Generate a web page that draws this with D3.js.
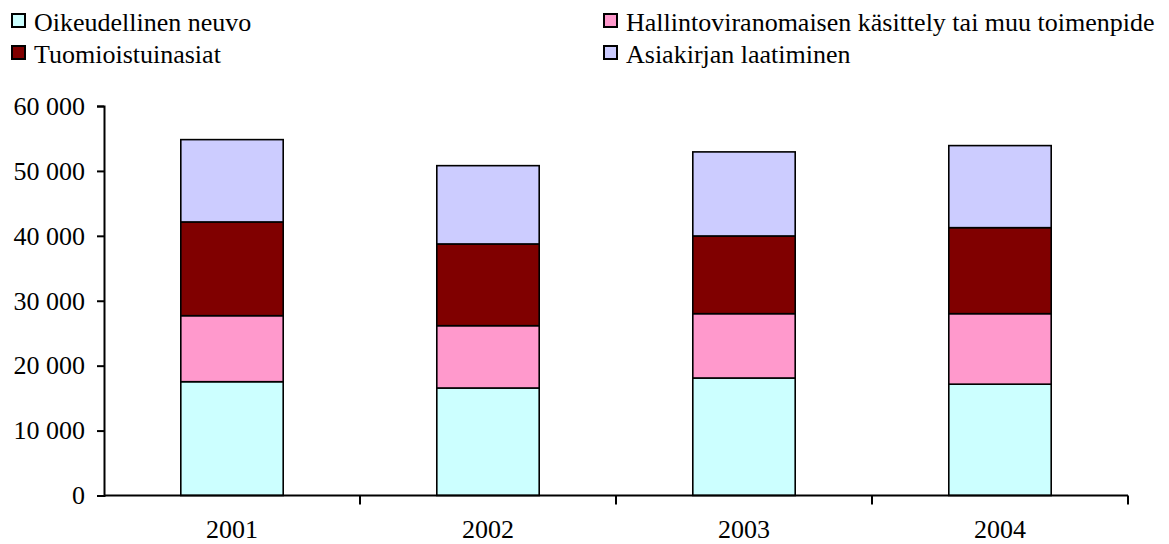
<!DOCTYPE html>
<html>
<head>
<meta charset="utf-8">
<script src="https://cdn.jsdelivr.net/npm/d3@7"></script>
<style>
  body { margin: 0; background: #fff; }
  svg text { font-family: "Liberation Serif", "Times New Roman", Times, serif; }
</style>
</head>
<body>
<svg></svg>
<script>
const years = ["2001", "2002", "2003", "2004"];

const seriesNames = [
    "Oikeudellinen neuvo",
    "Hallintoviranomaisen käsittely tai muu toimenpide",
    "Tuomioistuinasiat",
    "Asiakirjan laatiminen"
];

// values per series, one per year
const oikeudellinenNeuvo = [17530, 16560, 18100, 17150];
const hallinto = [10170, 9600, 9910, 10860];
const tuomioistuin = [14440, 12590, 11970, 13250];
const asiakirja = [12680, 12060, 12950, 12640];

const yTicks = [0, 10000, 20000, 30000, 40000, 50000, 60000];

const colors = ["#ccffff", "#ff99cc", "#800000", "#ccccff"];

const width = 1169, height = 544;
const plotLeft = 104, plotRight = 1128, plotTop = 106, plotBottom = 495.5;
const serif = "'Liberation Serif', 'Times New Roman', Times, serif";

const svg = d3.select("svg")
    .attr("width", width)
    .attr("height", height);

const seriesValues = [oikeudellinenNeuvo, hallinto, tuomioistuin, asiakirja];
const rows = years.map(function(y, i) {
    const r = { year: y };
    seriesNames.forEach(function(s, j) { r[s] = seriesValues[j][i]; });
    return r;
});

const stacked = d3.stack().keys(seriesNames)(rows);

const x = d3.scaleBand()
    .domain(years)
    .range([plotLeft, plotRight])
    .paddingInner(0)
    .paddingOuter(0);

const y = d3.scaleLinear()
    .domain([0, 60000])
    .range([plotBottom, plotTop]);

const fmt = d3.formatLocale({ decimal: ",", thousands: " ", grouping: [3], currency: ["", ""] }).format(",");

const barW = x.bandwidth() / 2.5;

// bars
svg.append("g")
    .selectAll("g")
    .data(stacked)
    .join("g")
    .attr("fill", function(d, i) { return colors[i]; })
    .selectAll("rect")
    .data(function(d) { return d; })
    .join("rect")
    .attr("x", function(d) { return x(d.data.year) + (x.bandwidth() - barW) / 2; })
    .attr("width", barW)
    .attr("y", function(d) { return y(d[1]); })
    .attr("height", function(d) { return y(d[0]) - y(d[1]); })
    .attr("stroke", "#000")
    .attr("stroke-width", 1.6);

// y axis
const yAxis = svg.append("g")
    .attr("transform", "translate(" + plotLeft + ",0)")
    .call(d3.axisLeft(y).tickValues(yTicks).tickFormat(fmt).tickSize(7).tickPadding(12));
yAxis.attr("font-family", null);
yAxis.select(".domain").attr("stroke", "#000").attr("stroke-width", 2);
yAxis.selectAll(".tick line").attr("stroke", "#000").attr("stroke-width", 2);
yAxis.selectAll(".tick text")
    .attr("font-size", 26)
    .style("font-family", serif)
    .attr("fill", "#000");

// x axis: ticks at category boundaries, labels centred
const xAxis = svg.append("g");
xAxis.append("line")
    .attr("x1", plotLeft).attr("x2", plotRight)
    .attr("y1", y(0)).attr("y2", y(0))
    .attr("stroke", "#000").attr("stroke-width", 2);
const bounds = years.map(function(d) { return x(d); }).concat([x(years[years.length - 1]) + x.bandwidth()]);
xAxis.selectAll("line.tick")
    .data(bounds.slice(1))
    .join("line")
    .attr("class", "tick")
    .attr("x1", function(d) { return d; }).attr("x2", function(d) { return d; })
    .attr("y1", y(0)).attr("y2", y(0) + 9)
    .attr("stroke", "#000").attr("stroke-width", 2);
xAxis.selectAll("text")
    .data(years)
    .join("text")
    .attr("x", function(d) { return x(d) + x.bandwidth() / 2; })
    .attr("y", 538)
    .attr("text-anchor", "middle")
    .attr("font-size", 26)
    .style("font-family", serif)
    .text(function(d) { return d; });

// legend, two columns
const legendPos = [
    { x: 12, y: 31 },
    { x: 604, y: 31 },
    { x: 12, y: 63 },
    { x: 604, y: 63 }
];
const legendOrder = [0, 1, 2, 3];
const legend = svg.append("g")
    .selectAll("g")
    .data(legendOrder)
    .join("g")
    .attr("transform", function(d, i) { return "translate(" + legendPos[i].x + "," + legendPos[i].y + ")"; });
legend.append("rect")
    .attr("x", 0).attr("y", -17)
    .attr("width", 13).attr("height", 13)
    .attr("fill", function(d) { return colors[d]; })
    .attr("stroke", "#000").attr("stroke-width", 2);
legend.append("text")
    .attr("x", 22)
    .attr("y", 0)
    .attr("font-size", 26)
    .style("font-family", serif)
    .text(function(d) { return seriesNames[d]; });
</script>
</body>
</html>
